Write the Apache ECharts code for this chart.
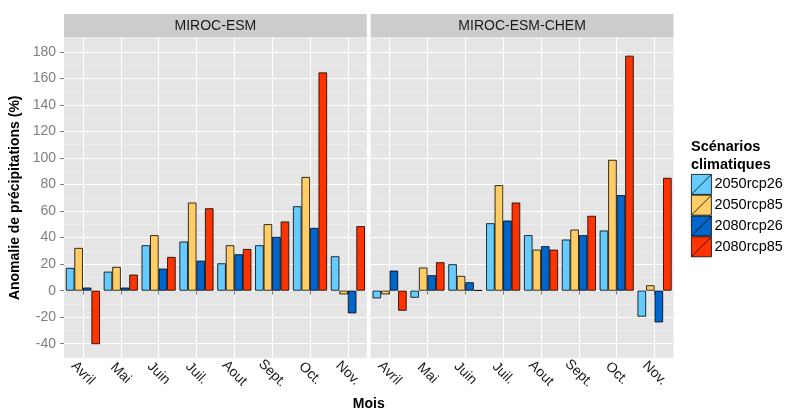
<!DOCTYPE html>
<html>
<head>
<meta charset="utf-8">
<script src="https://cdn.jsdelivr.net/npm/echarts@6/dist/echarts.min.js"></script>
<style>html,body{margin:0;padding:0;background:#fff;}#c{width:787px;height:412px;}</style>
</head>
<body>
<div id="c"></div>
<script>
var months = ['Avril','Mai','Juin','Juil.','Aout','Sept.','Oct.','Nov.'];
var panels = ['MIROC-ESM','MIROC-ESM-CHEM'];
var scenarios = ['2050rcp26','2050rcp85','2080rcp26','2080rcp85'];
var scenarioColors = ['#66CCFF','#FFCC66','#0066CC','#FF3300'];
var yMajorTicks = [-40,-20,0,20,40,60,80,100,120,140,160,180];
var yMinorTicks = [-50,-30,-10,10,30,50,70,90,110,130,150,170,190];

var esm_2050rcp26 = [17.1, 14.3, 34.2, 37.0, 20.6, 34.2, 63.6, 25.9];
var esm_2050rcp85 = [32.2, 17.9, 41.8, 66.4, 34.2, 50.1, 85.7, -2.8];
var esm_2080rcp26 = [2.3, 2.3, 16.6, 22.6, 27.4, 40.5, 47.3, -17.1];
var esm_2080rcp85 = [-40.3, 12.1, 25.4, 62.1, 31.4, 52.1, 164.5, 48.6];

var chem_2050rcp26 = [-5.8, -5.3, 19.9, 50.8, 41.8, 38.5, 45.3, -19.6];
var chem_2050rcp85 = [-2.8, 17.4, 11.1, 79.5, 30.9, 46.0, 98.6, 4.0];
var chem_2080rcp26 = [15.1, 11.6, 6.3, 52.8, 33.5, 41.8, 72.0, -23.9];
var chem_2080rcp85 = [-15.1, 21.4, 0.3, 66.4, 30.9, 56.4, 177.1, 85.0];

var panelData = [
  [esm_2050rcp26, esm_2050rcp85, esm_2080rcp26, esm_2080rcp85],
  [chem_2050rcp26, chem_2050rcp85, chem_2080rcp26, chem_2080rcp85]
];

var FONT = 'Liberation Sans, Arial, sans-serif';
var gridL = [64, 370.7], gridW = 302.8, gridTop = 37.3, gridH = 321;
var yMin = -51, yMax = 191;

var grids = [], xAxes = [], yAxes = [], series = [], graphics = [];
for (var p = 0; p < 2; p++) {
  grids.push({left: gridL[p], top: gridTop, width: gridW, height: gridH,
    show: true, backgroundColor: '#E5E5E5', borderWidth: 0, containLabel: false});
  xAxes.push({type: 'category', gridIndex: p, data: months, boundaryGap: true, position: 'bottom',
    axisLine: {show: false},
    axisTick: {show: true, alignWithLabel: true, length: 4, lineStyle: {color: '#7F7F7F', width: 1}},
    axisLabel: {show: true, rotate: -45, align: 'center', verticalAlign: 'middle', margin: 15,
      color: '#1A1A1A', fontSize: 14, fontFamily: FONT, interval: 0},
    splitLine: {show: false}, z: 3});
  xAxes.push({type: 'value', gridIndex: p, min: 0.5, max: 8.5, position: 'bottom',
    axisLine: {show: false}, axisLabel: {show: false},
    axisTick: {show: false, customValues: [1,2,3,4,5,6,7,8]},
    splitLine: {show: true, lineStyle: {color: '#FFFFFF', width: 1.1}}, z: 1});
  yAxes.push({type: 'value', gridIndex: p, min: yMin, max: yMax, position: 'left',
    axisLine: {show: false}, axisLabel: {show: false},
    axisTick: {show: false, customValues: yMinorTicks},
    splitLine: {show: true, lineStyle: {color: '#F2F2F2', width: 0.6}}, z: 0});
  var major = {type: 'value', gridIndex: p, min: yMin, max: yMax, position: 'left',
    axisLine: {show: false},
    axisLabel: {show: p === 0, customValues: yMajorTicks, color: '#7F7F7F', fontSize: 14,
      fontFamily: FONT, margin: 8},
    axisTick: {show: p === 0, customValues: yMajorTicks, length: 4, lineStyle: {color: '#7F7F7F', width: 1}},
    splitLine: {show: true, lineStyle: {color: '#FFFFFF', width: 1.1}}, z: 1};
  if (p === 0) {
    major.name = 'Anomalie de précipitations (%)';
    major.nameLocation = 'middle';
    major.nameGap = 42;
    major.nameTextStyle = {fontWeight: 'bold', fontSize: 14, color: '#000', fontFamily: FONT};
  }
  yAxes.push(major);

  for (var s = 0; s < 4; s++) {
    series.push({type: 'bar', name: scenarios[s], xAxisIndex: p * 2, yAxisIndex: p * 2 + 1,
      data: panelData[p][s], barGap: '0%', barCategoryGap: '10%',
      itemStyle: {color: scenarioColors[s], borderColor: '#000', borderWidth: 0.8},
      emphasis: {disabled: true}, animation: false, z: 5});
  }
  graphics.push({type: 'rect', shape: {x: gridL[p], y: 14, width: gridW, height: gridTop - 14},
    style: {fill: '#CCCCCC'}, silent: true});
  graphics.push({type: 'text', x: gridL[p] + gridW / 2, y: 26,
    style: {text: panels[p], fill: '#1A1A1A', font: '14px ' + FONT, textAlign: 'center', textVerticalAlign: 'middle'}});
}
graphics.push({type: 'text', x: (gridL[0] + gridL[1] + gridW) / 2, y: 404,
  style: {text: 'Mois', fill: '#000', font: 'bold 14px ' + FONT, textAlign: 'center', textVerticalAlign: 'middle'}});

var option = {
  animation: false,
  backgroundColor: '#FFFFFF',
  title: {text: 'Scénarios\nclimatiques', left: 691, top: 138, padding: 0,
    textStyle: {fontWeight: 'bold', fontSize: 14.5, color: '#000', fontFamily: FONT, lineHeight: 18}},
  legend: {orient: 'vertical', left: 691, top: 174, padding: 0, itemGap: 0, itemWidth: 20, itemHeight: 20.5,
    data: scenarios,
    icon: 'path://M0,0 L10,0 L10,10 L0,10 Z M0,10 L10,0',
    itemStyle: {borderColor: '#000', borderWidth: 0.8},
    textStyle: {fontSize: 14.5, color: '#000', fontFamily: FONT, padding: [0,0,0,-2]},
    selectedMode: false},
  grid: grids,
  xAxis: xAxes,
  yAxis: yAxes,
  series: series,
  graphic: graphics
};
var chart = echarts.init(document.getElementById('c'), null, {renderer: 'canvas'});
chart.setOption(option);
</script>
</body>
</html>
